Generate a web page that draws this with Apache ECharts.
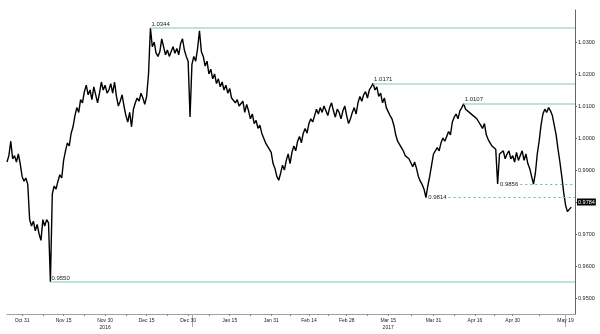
<!DOCTYPE html>
<html><head><meta charset="utf-8">
<script src="https://cdn.jsdelivr.net/npm/echarts@6/dist/echarts.min.js"></script>
<style>html,body{margin:0;padding:0;background:#fff}#c{width:600px;height:334px}</style>
</head><body><div id="c"></div>
<script>
// ---- data ----
const firstDay = '2016-10-25';
const lastDay = '2017-05-23';
// two readings per business day (morning, afternoon)
const quotes = [
[0.9925,0.9945],[0.9990,0.9935],[0.9945,0.9925],[0.9950,0.9920],[0.9880,0.9865],
[0.9875,0.9855],[0.9745,0.9725],[0.9740,0.9710],[0.9730,0.9700],[0.9680,0.9745],
[0.9725,0.9745],[0.9735,0.9550],[0.9825,0.9850],[0.9840,0.9865],[0.9885,0.9875],
[0.9930,0.9960],[0.9985,0.9975],[1.0015,1.0035],[1.0070,1.0095],[1.0080,1.0120],
[1.0110,1.0145],[1.0165,1.0135],[1.0150,1.0120],[1.0160,1.0135],[1.0110,1.0140],
[1.0175,1.0150],[1.0165,1.0140],[1.0150,1.0170],[1.0140,1.0175],[1.0130,1.0100],
[1.0115,1.0135],[1.0100,1.0070],[1.0050,1.0080],[1.0035,1.0090],[1.0110,1.0125],
[1.0115,1.0140],[1.0125,1.0105],[1.0130,1.0200],[1.0344,1.0285],[1.0300,1.0265],
[1.0255,1.0270],[1.0310,1.0285],[1.0260,1.0275],[1.0255,1.0270],[1.0285,1.0265],
[1.0280,1.0260],[1.0295,1.0310],[1.0275,1.0255],[1.0240,1.0066],[1.0230,1.0255],
[1.0240,1.0280],[1.0335,1.0270],[1.0255,1.0225],[1.0240,1.0200],[1.0215,1.0185],
[1.0200,1.0170],[1.0185,1.0160],[1.0175,1.0150],[1.0165,1.0140],[1.0155,1.0125],
[1.0130,1.0110],[1.0120,1.0100],[1.0095,1.0115],[1.0080,1.0105],[1.0085,1.0060],
[1.0075,1.0045],[1.0055,1.0030],[1.0040,1.0015],[1.0010,0.9985],[0.9990,0.9965],
[0.9955,0.9920],[0.9905,0.9880],[0.9868,0.9890],[0.9915,0.9900],[0.9930,0.9950],
[0.9920,0.9955],[0.9975,0.9960],[0.9990,1.0005],[0.9985,1.0015],[1.0030,1.0015],
[1.0045,1.0060],[1.0050,1.0070],[1.0090,1.0075],[1.0095,1.0080],[1.0100,1.0085],
[1.0070,1.0095],[1.0110,1.0085],[1.0065,1.0090],[1.0080,1.0060],[1.0085,1.0100],
[1.0070,1.0045],[1.0060,1.0080],[1.0095,1.0075],[1.0110,1.0130],[1.0115,1.0135],
[1.0145,1.0125],[1.0150,1.0160],[1.0171,1.0150],[1.0160,1.0130],[1.0140,1.0110],
[1.0125,1.0095],[1.0090,1.0070],[1.0060,1.0040],[1.0010,0.9990],[0.9985,0.9970],
[0.9960,0.9945],[0.9950,0.9935],[0.9930,0.9910],[0.9925,0.9905],[0.9880,0.9865],
[0.9855,0.9840],[0.9814,0.9850],[0.9880,0.9915],[0.9950,0.9945],[0.9970,0.9960],
[0.9985,1.0000],[0.9990,1.0005],[1.0020,1.0010],[1.0050,1.0065],[1.0075,1.0060],
[1.0085,1.0095],[1.0107,1.0090],[1.0095,1.0080],[1.0085,1.0070],[1.0075,1.0060],
[1.0050,1.0040],[1.0030,1.0045],[1.0010,0.9995],[0.9985,0.9975],[0.9980,0.9965],
[0.9856,0.9950],[0.9945,0.9960],[0.9935,0.9950],[0.9960,0.9935],[0.9945,0.9925],
[0.9955,0.9930],[0.9945,0.9960],[0.9930,0.9950],[0.9920,0.9905],[0.9880,0.9856],
[0.9890,0.9950],[0.9990,1.0040],[1.0075,1.0090],[1.0080,1.0095],[1.0085,1.0070],
[1.0040,1.0010],[0.9965,0.9925],[0.9880,0.9830],[0.9790,0.9770],[0.9765,0.9784]
];
// x-axis tick labels
const tickDates = ['2016-10-31','2016-11-15','2016-11-30','2016-12-15','2016-12-30','2017-01-16','2017-01-31','2017-02-14','2017-02-28','2017-03-15','2017-03-31','2017-04-17','2017-05-01','2017-05-19'];
const tickTexts = ['Oct 31','Nov 15','Nov 30\n2016','Dec 15','Dec 30','Jan 15','Jan 31','Feb 14','Feb 28','Mar 15\n2017','Mar 31','Apr 16','Apr 30','May 19'];
const markerDates = ['2017-01-02','2017-05-19'];
// y-axis tick labels
const yTicks = [0.95,0.96,0.97,0.98,0.99,1.00,1.01,1.02,1.03];
// reference levels
const levelValues = [1.0344, 1.0171, 1.0107, 0.9550];
const levelStarts = ['2016-12-16 AM','2017-03-09 AM','2017-04-12 AM','2016-11-09 PM'];
const dashedValues = [0.9814, 0.9856];
const dashedStarts = ['2017-04-06 AM','2017-05-03 AM'];

// ---- build categories ----
const businessDays = [];
for (let d = new Date(firstDay + 'T00:00:00Z'); d <= new Date(lastDay + 'T00:00:00Z'); d.setUTCDate(d.getUTCDate() + 1)) {
  const wd = d.getUTCDay();
  if (wd !== 0 && wd !== 6) businessDays.push(d.toISOString().slice(0, 10));
}
const categories = [], lineData = [];
businessDays.forEach((d, i) => {
  ['AM', 'PM'].forEach((h, k) => {
    categories.push(d + ' ' + h);
    lineData.push(i < quotes.length ? quotes[i][k] : null);
  });
});
const lastCat = categories[categories.length - 1];
const labelMap = {};
tickDates.forEach((d, k) => { labelMap[d + ' AM'] = tickTexts[k]; });
const tickIdx = tickDates.map(d => categories.indexOf(d + ' AM'));
const tickSet = new Set(tickIdx);
for (let k = 0; k < tickIdx.length - 1; k++) tickSet.add(Math.round((tickIdx[k] + tickIdx[k + 1]) / 2));
const markerSet = new Set(markerDates.map(d => categories.indexOf(d + ' AM')));
const lastValue = quotes[quotes.length - 1][1];

const FONT = 'Liberation Sans';
const solidColor = '#a9ddc6';
const dashColor = '#5fc29f';

const markData = [];
levelValues.forEach((v, k) => {
  markData.push([
    { coord: [levelStarts[k], v],
      lineStyle: { color: solidColor, width: 1.5, type: 'solid' },
      label: { show: true, position: 'insideStartTop', distance: 1, formatter: v.toFixed(4), fontSize: 6, color: '#222', fontFamily: FONT } },
    { coord: [lastCat, v] }
  ]);
});
dashedValues.forEach((v, k) => {
  markData.push([
    { coord: [dashedStarts[k], v],
      lineStyle: { color: dashColor, width: 1, type: [2, 3] },
      label: { show: true, position: 'start', distance: 2, formatter: v.toFixed(4), fontSize: 6, color: '#222', fontFamily: FONT } },
    { coord: [lastCat, v] }
  ]);
});
markData.push({
  yAxis: lastValue,
  lineStyle: { color: 'rgba(0,0,0,0)', width: 0 },
  label: { show: true, position: 'end', distance: 2, formatter: lastValue.toFixed(4), fontSize: 5.5, color: '#fff', backgroundColor: '#000', padding: [1, 1, 0, 1], fontFamily: FONT }
});

const chart = echarts.init(document.getElementById('c'), null, { renderer: 'canvas' });
chart.setOption({
  animation: false,
  backgroundColor: '#fff',
  grid: { left: 7, right: 25, top: 10, bottom: 20, containLabel: false },
  xAxis: [{
    type: 'category', data: categories, boundaryGap: false,
    axisLine: { show: true, lineStyle: { color: '#a0a0a0', width: 1 } },
    axisTick: { show: true, length: 2, interval: (i) => tickSet.has(i), lineStyle: { color: '#888' } },
    axisLabel: { show: true, interval: (i, v) => !!labelMap[v], formatter: v => labelMap[v] || '', fontSize: 5, lineHeight: 7, color: '#222', margin: 3, fontFamily: FONT },
    splitLine: { show: false }
  }, {
    type: 'category', data: categories, boundaryGap: false, position: 'bottom',
    axisLine: { show: false },
    axisTick: { show: true, length: 13, interval: (i) => markerSet.has(i), lineStyle: { color: '#aaa' } },
    axisLabel: { show: false },
    splitLine: { show: false }
  }],
  yAxis: {
    type: 'value', position: 'right', min: 0.945, max: 1.04, scale: true,
    axisLine: { show: true, lineStyle: { color: '#666', width: 1 } },
    axisTick: { show: true, length: 2, customValues: yTicks, lineStyle: { color: '#666' } },
    axisLabel: { show: true, customValues: yTicks, formatter: v => v.toFixed(4), fontSize: 5.5, color: '#222', margin: 3, fontFamily: FONT },
    splitLine: { show: false }
  },
  series: [{
    type: 'line', data: lineData, xAxisIndex: 0, showSymbol: false, symbol: 'none', silent: true,
    lineStyle: { color: '#000', width: 1.4 },
    markLine: { silent: true, symbol: ['none', 'none'], animation: false, data: markData }
  }]
});
</script>
</body></html>
